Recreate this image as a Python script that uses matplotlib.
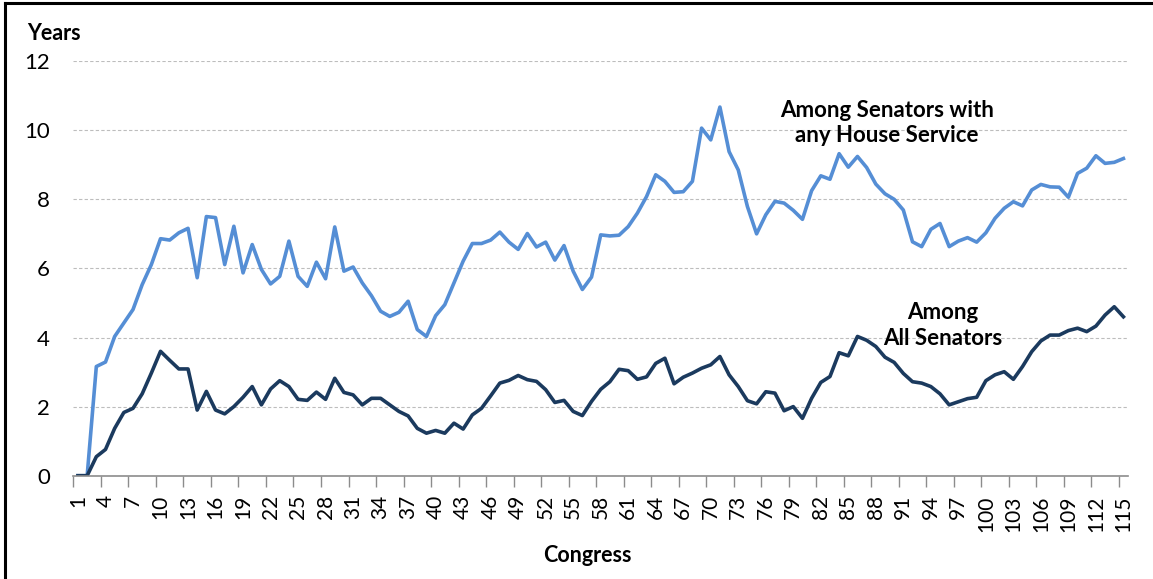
import matplotlib
matplotlib.use("Agg")
import matplotlib.pyplot as plt
from matplotlib.lines import Line2D
import numpy as np

congress = list(range(1, 116))

house_service = [
    0.0, 0.0, 3.16, 3.29, 4.03, 4.42, 4.81, 5.53, 6.11, 6.86,
    6.82, 7.03, 7.16, 5.73, 7.50, 7.47, 6.11, 7.22, 5.87, 6.69,
    5.97, 5.55, 5.77, 6.79, 5.77, 5.48, 6.18, 5.70, 7.20, 5.92,
    6.04, 5.58, 5.21, 4.76, 4.61, 4.73, 5.05, 4.23, 4.03, 4.63,
    4.95, 5.58, 6.21, 6.72, 6.72, 6.82, 7.05, 6.76, 6.55, 7.01,
    6.62, 6.76, 6.24, 6.66, 5.92, 5.39, 5.75, 6.97, 6.94, 6.96,
    7.21, 7.60, 8.08, 8.71, 8.52, 8.20, 8.22, 8.52, 10.06, 9.72,
    10.67, 9.38, 8.85, 7.79, 7.00, 7.55, 7.94, 7.89, 7.68, 7.42,
    8.25, 8.68, 8.58, 9.32, 8.93, 9.24, 8.92, 8.44, 8.16, 8.00,
    7.69, 6.77, 6.63, 7.13, 7.30, 6.63, 6.79, 6.89, 6.76, 7.03,
    7.45, 7.74, 7.93, 7.81, 8.27, 8.43, 8.36, 8.35, 8.06, 8.75,
    8.90, 9.26, 9.04, 9.07, 9.18,
]

all_senators = [
    0.0, 0.0, 0.55, 0.76, 1.37, 1.83, 1.95, 2.37, 2.97, 3.60,
    3.34, 3.09, 3.09, 1.90, 2.44, 1.90, 1.79, 2.00, 2.27, 2.58,
    2.05, 2.51, 2.75, 2.58, 2.21, 2.18, 2.42, 2.21, 2.82, 2.41,
    2.34, 2.05, 2.24, 2.24, 2.05, 1.86, 1.73, 1.37, 1.23, 1.31,
    1.23, 1.52, 1.35, 1.76, 1.95, 2.31, 2.68, 2.76, 2.90, 2.78,
    2.73, 2.49, 2.12, 2.18, 1.86, 1.74, 2.15, 2.50, 2.72, 3.08,
    3.04, 2.79, 2.86, 3.25, 3.40, 2.66, 2.85, 2.97, 3.11, 3.21,
    3.45, 2.92, 2.58, 2.17, 2.08, 2.43, 2.39, 1.88, 2.00, 1.66,
    2.24, 2.70, 2.87, 3.56, 3.47, 4.03, 3.92, 3.74, 3.43, 3.28,
    2.96, 2.72, 2.68, 2.58, 2.37, 2.05, 2.14, 2.23, 2.27, 2.75,
    2.92, 3.01, 2.79, 3.16, 3.59, 3.90, 4.07, 4.07, 4.20, 4.27,
    4.17, 4.33, 4.65, 4.89, 4.60,
]

y_ticks = [0, 2, 4, 6, 8, 10, 12]
x_tick_labels = [str(c) for c in congress[::3]]

label_house = "Among Senators with\nany House Service"
label_all = "Among\nAll Senators"

plt.rcParams['font.family'] = ['Lato', 'DejaVu Sans']

W, H = 1153, 579
fig = plt.figure(figsize=(W / 100, H / 100), dpi=100)
ax = fig.add_axes([73.4 / W, 1 - 475.7 / H, (1128 - 73.4) / W, (475.7 - 61.1) / H])

light = '#558ED5'
dark = '#1B3A5E'

ax.plot(congress, house_service, color=light, lw=2.6, solid_joinstyle='round', zorder=3)
ax.plot(congress, all_senators, color=dark, lw=2.6, solid_joinstyle='round', zorder=3)

ax.set_xlim(0.5, 115.5)
ax.set_ylim(0, 12)
ax.set_yticks(y_ticks)
ax.set_yticklabels([str(v) for v in y_ticks], fontsize=16)
ax.tick_params(axis='y', length=0, pad=17)

ax.set_xticks(np.arange(0.5, 115.6, 3))
ax.set_xticklabels([])
ax.set_xticks(congress[::3], minor=True)
ax.set_xticklabels(x_tick_labels, minor=True, rotation=90, fontsize=15)
ax.tick_params(axis='x', which='major', length=8, width=1, color='#8C8C8C', direction='out')
ax.tick_params(axis='x', which='minor', length=0, pad=14)

ax.grid(axis='y', linestyle=(0, (3, 2)), color='#BDBDBD', lw=0.8)
ax.set_axisbelow(True)
for s in ['top', 'right', 'left']:
    ax.spines[s].set_visible(False)
ax.spines['bottom'].set_color('#8C8C8C')
ax.spines['bottom'].set_linewidth(1.2)
ax.spines['bottom'].set_zorder(4)

fig.text(27 / W, 1 - 33 / H, 'Years', fontsize=15.5, fontweight='bold', va='center', ha='left')
fig.text(587 / W, 1 - 555 / H, 'Congress', fontsize=15.5, fontweight='bold', va='center', ha='center')

ax.text(89.2, 10.2, label_house, fontsize=16, fontweight='bold', ha='center', va='center',
        linespacing=1.25)
ax.text(95.3, 4.35, label_all, fontsize=16, fontweight='bold', ha='center', va='center',
        linespacing=1.25)

fig.add_artist(Line2D([5 / W, 5 / W], [0, 1 - 3 / H], color='black', lw=2.2))
fig.add_artist(Line2D([5 / W, 1], [1 - 3 / H, 1 - 3 / H], color='black', lw=2.2))

fig.savefig('out.png', dpi=100)
